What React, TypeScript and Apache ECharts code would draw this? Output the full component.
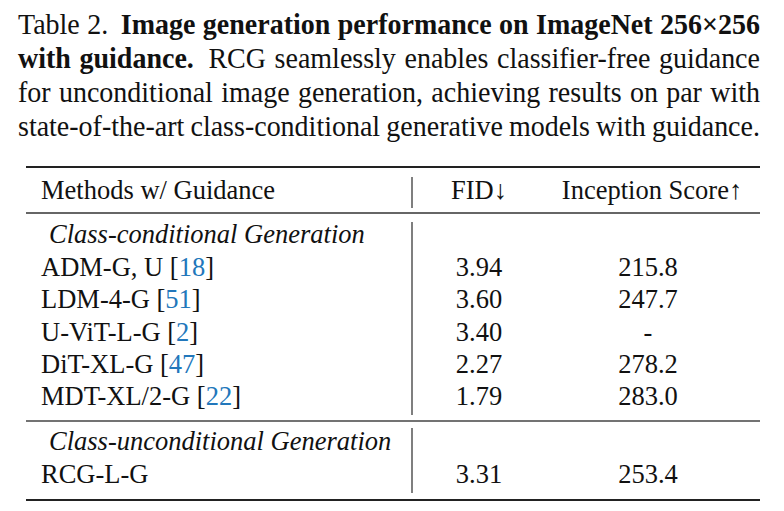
import React, { useEffect, useRef } from "react";
import * as echarts from "echarts";

const captionLines: { t: string; b: boolean; w?: number }[][] = [
  [
    { t: "Table", b: false }, { t: "2.", b: false, w: 1.7 },
    { t: "Image", b: true }, { t: "generation", b: true }, { t: "performance", b: true },
    { t: "on", b: true }, { t: "ImageNet", b: true }, { t: "256×256", b: true },
  ],
  [
    { t: "with", b: true }, { t: "guidance.", b: true, w: 1.7 },
    { t: "RCG", b: false }, { t: "seamlessly", b: false }, { t: "enables", b: false },
    { t: "classifier-free", b: false }, { t: "guidance", b: false },
  ],
  "for unconditional image generation, achieving results on par with".split(" ").map((t) => ({ t, b: false })),
  "state-of-the-art class-conditional generative models with guidance.".split(" ").map((t) => ({ t, b: false })),
];

const headers = ["Methods w/ Guidance", "FID↓", "Inception Score↑"];
const condTitle = "Class-conditional Generation";
const condMethods = ["ADM-G, U", "LDM-4-G", "U-ViT-L-G", "DiT-XL-G", "MDT-XL/2-G"];
const condCites = ["18", "51", "2", "47", "22"];
const condFid = ["3.94", "3.60", "3.40", "2.27", "1.79"];
const condIS = ["215.8", "247.7", "-", "278.2", "283.0"];
const uncondTitle = "Class-unconditional Generation";
const uncondMethods = ["RCG-L-G"];
const uncondFid = ["3.31"];
const uncondIS = ["253.4"];

const FAMILY = "Liberation Serif";
const INK = "#111";
const CITE = "#2277bb";

export default function App() {
  const ref = useRef<HTMLDivElement>(null);
  useEffect(() => {
    document.body.style.margin = "0";
    const chart = echarts.init(ref.current!, null, { renderer: "svg" });
    const canvas = document.createElement("canvas");
    const ctx = canvas.getContext("2d")!;
    const els: any[] = [];

    const capFs = 28;
    const capLeft = 18;
    const capRight = 760;
    const capBase = [33.5, 67.5, 101.5, 135.5];
    const mid = (base: number, fs: number) => base - 0.34 * fs;

    captionLines.forEach((line, li) => {
      const widths = line.map((w) => {
        ctx.font = `${w.b ? "bold " : ""}${capFs}px "${FAMILY}"`;
        return ctx.measureText(w.t).width;
      });
      const total = widths.reduce((a, b) => a + b, 0);
      const units = line.slice(0, -1).reduce((a, w) => a + (w.w || 1), 0);
      const gap = (capRight - capLeft - total) / units;
      let x = capLeft;
      line.forEach((w, i) => {
        els.push({
          type: "text",
          x,
          y: mid(capBase[li], capFs),
          scaleY: 1.06,
          style: {
            text: w.t,
            fontFamily: FAMILY,
            fontSize: capFs,
            fontWeight: w.b ? "bold" : "normal",
            fill: INK,
            align: "left",
            verticalAlign: "middle",
          },
        });
        x += widths[i] + gap * (w.w || 1);
      });
    });

    const fs = 26.5;
    const colX = [41, 479, 652];
    const hline = (y: number, w: number, c: string) =>
      els.push({ type: "line", shape: { x1: 26, y1: y, x2: 760, y2: y }, style: { stroke: c, lineWidth: w } });
    const vline = (y1: number, y2: number) =>
      els.push({ type: "line", shape: { x1: 412, y1, x2: 412, y2 }, style: { stroke: "#555", lineWidth: 1.5 } });

    hline(167, 2, "#222");
    hline(213, 1.3, "#333");
    hline(421, 1.6, "#444");
    hline(500, 2, "#222");
    vline(177, 208);
    vline(222, 415);
    vline(428, 493);

    const txt = (text: string, x: number, base: number, align: string, extra: any = {}) =>
      els.push({
        type: "text",
        x,
        y: mid(base, fs),
        style: { text, fontFamily: FAMILY, fontSize: fs, fill: INK, align, verticalAlign: "middle", ...extra },
      });

    txt(headers[0], colX[0], 199.5, "left");
    txt(headers[1], colX[1], 199.5, "center");
    txt(headers[2], colX[2], 199.5, "center");

    const rowH = 32.4;
    txt(condTitle, 49, 243.5, "left", { fontStyle: "italic" });
    condMethods.forEach((m, i) => {
      const base = 243.5 + rowH * (i + 1);
      els.push({
        type: "text",
        x: colX[0],
        y: mid(base, fs),
        style: {
          text: `{n|${m} [}{c|${condCites[i]}}{n|]}`,
          align: "left",
          verticalAlign: "middle",
          fontFamily: FAMILY,
          fontSize: fs,
          rich: {
            n: { fontFamily: FAMILY, fontSize: fs, fill: INK },
            c: { fontFamily: FAMILY, fontSize: fs, fill: CITE },
          },
        },
      });
      txt(condFid[i], colX[1], base, "center");
      txt(condIS[i], colX[2] - 4, base, "center");
    });

    txt(uncondTitle, 49, 450.5, "left", { fontStyle: "italic" });
    uncondMethods.forEach((m, i) => {
      const base = 483.5 + rowH * i;
      txt(m, colX[0], base, "left");
      txt(uncondFid[i], colX[1], base, "center");
      txt(uncondIS[i], colX[2] - 4, base, "center");
    });

    chart.setOption({ animation: false, graphic: { elements: els } });
    return () => chart.dispose();
  }, []);
  return <div ref={ref} style={{ width: 784, height: 511, background: "#fff" }} />;
}
